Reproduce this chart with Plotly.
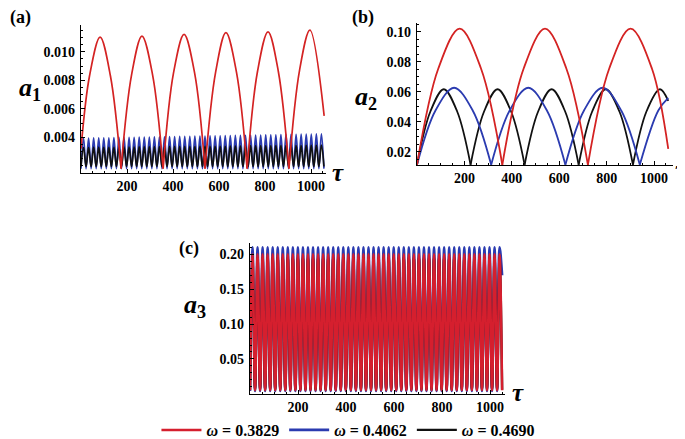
import plotly.graph_objects as go

# ---------------- data ----------------
# Panel (a): a1 vs tau
a_red_tau = [0, 37, 83, 128, 174, None, 174, 220, 265, 311, 357, None, 357, 402, 448, 494, 539, None,
             539, 585, 630, 676, 722, None, 722, 767, 813, 858, 904, None, 904, 950, 995, 1057]
a_red_val = [0.0032, 0.0083, 0.01103, 0.0083, 0.0018, None, 0.0018, 0.0084, 0.0111, 0.0084, 0.0018, None,
             0.0018, 0.0085, 0.01122, 0.0085, 0.0018, None, 0.0018, 0.00855, 0.01134, 0.00855, 0.0018, None,
             0.0018, 0.0086, 0.0114, 0.0086, 0.0018, None, 0.0018, 0.0087, 0.01152, 0.0055]

a_fast_tau = [0, 11, 22, 33, 44, 55, 66, 77, 88, 99, 110, 121, 132, 143, 154, 165, 176, 187, 198, 209,
              220, 231, 242, 253, 264, 275, 286, 297, 308, 319, 330, 341, 352, 363, 374, 385, 396, 407,
              418, 429, 440, 451, 462, 473, 484, 495, 506, 517, 528, 539, 550, 561, 572, 583, 594, 605,
              616, 627, 638, 649, 660, 671, 682, 693, 704, 715, 726, 737, 748, 759, 770, 781, 792, 803,
              814, 825, 836, 847, 858, 869, 880, 891, 902, 913, 924, 935, 946, 957, 968, 979, 990, 1001,
              1012, 1023, 1034, 1045, 1056]
a_blue_trough = [0.0018, 0.0018, 0.0018, 0.0018, 0.0018, 0.0018, 0.0018, 0.0018, 0.0018, 0.0018,
                 0.0018, 0.0018, 0.0018, 0.0018, 0.0018, 0.0018, 0.0018, 0.0018, 0.0018, 0.0018,
                 0.0018, 0.0018, 0.0018, 0.0018, 0.0018, 0.0018, 0.0018, 0.0018, 0.0018, 0.0018,
                 0.0018, 0.0018, 0.0018, 0.0018, 0.0018, 0.0018, 0.0018, 0.0018, 0.0018, 0.0018,
                 0.0018, 0.0018, 0.0018, 0.0018, 0.0018, 0.0018, 0.0018, 0.0018, 0.0018]
a_blue_peak = [0.00395, 0.00395, 0.00396, 0.00396, 0.00397, 0.00397, 0.00398, 0.00399, 0.00399, 0.00400,
               0.00400, 0.00401, 0.00402, 0.00402, 0.00403, 0.00403, 0.00404, 0.00405, 0.00405, 0.00406,
               0.00407, 0.00407, 0.00408, 0.00408, 0.00409, 0.00410, 0.00410, 0.00411, 0.00412, 0.00412,
               0.00413, 0.00414, 0.00414, 0.00415, 0.00416, 0.00416, 0.00417, 0.00418, 0.00418, 0.00419,
               0.00420, 0.00420, 0.00421, 0.00422, 0.00422, 0.00423, 0.00424, 0.00425]
a_black_trough = [0.00195, 0.00195, 0.00195, 0.00195, 0.00195, 0.00195, 0.00195, 0.00195, 0.00195, 0.00195,
                  0.00195, 0.00195, 0.00195, 0.00195, 0.00195, 0.00195, 0.00195, 0.00195, 0.00195, 0.00195,
                  0.00195, 0.00195, 0.00195, 0.00195, 0.00195, 0.00195, 0.00195, 0.00195, 0.00195, 0.00195,
                  0.00195, 0.00195, 0.00195, 0.00195, 0.00195, 0.00195, 0.00195, 0.00195, 0.00195, 0.00195,
                  0.00195, 0.00195, 0.00195, 0.00195, 0.00195, 0.00195, 0.00195, 0.00195, 0.00195]
a_black_peak = [0.00330, 0.00330, 0.00331, 0.00331, 0.00331, 0.00332, 0.00332, 0.00332, 0.00333, 0.00333,
                0.00333, 0.00334, 0.00334, 0.00334, 0.00335, 0.00335, 0.00335, 0.00336, 0.00336, 0.00336,
                0.00337, 0.00337, 0.00337, 0.00338, 0.00338, 0.00338, 0.00339, 0.00339, 0.00339, 0.00340,
                0.00340, 0.00340, 0.00341, 0.00341, 0.00341, 0.00342, 0.00342, 0.00342, 0.00343, 0.00343,
                0.00343, 0.00344, 0.00344, 0.00344, 0.00345, 0.00345, 0.00345, 0.00346]

# Panel (b): a2 vs tau
b_red_tau = [0, 90, 180, 270, 360, None, 360, 450, 540, 630, 721, None, 721, 811, 901, 991, 1060]
b_red_val = [0.0115, 0.0755, 0.102, 0.0755, 0.0115, None, 0.0115, 0.0755, 0.102, 0.0755, 0.0115, None,
             0.0115, 0.0755, 0.102, 0.0755, 0.022]
b_blue_tau = [0, 78, 156.5, 235, 313, None, 313, 391, 469.5, 548, 626, None, 626, 704.5, 783, 861.5, 940,
              None, 940, 1018, 1060]
b_blue_val = [0.0115, 0.0476, 0.0627, 0.0476, 0.0115, None, 0.0115, 0.0476, 0.0627, 0.0476, 0.0115, None,
              0.0115, 0.0476, 0.0627, 0.0476, 0.0115, None, 0.0115, 0.0476, 0.056]
b_black_tau = [0, 56.5, 113, 169.5, 226, None, 226, 283, 340, 397, 454, None, 454, 511, 568, 625, 682, None,
               682, 739, 796.5, 854, 911, None, 911, 968, 1025, 1060]
b_black_val = [0.0115, 0.0469, 0.0617, 0.0469, 0.0115, None, 0.0115, 0.0469, 0.0617, 0.0469, 0.0115, None,
               0.0115, 0.0469, 0.0617, 0.0469, 0.0115, None, 0.0115, 0.0469, 0.0617, 0.0469, 0.0115, None,
               0.0115, 0.0469, 0.0617, 0.054]

# Panel (c): a3 vs tau
c_fast_tau = [0, 10.5, 21, 31.5, 42, 52.5, 63, 73.5, 84, 94.5, 105, 115.5, 126, 136.5, 147, 157.5, 168,
              178.5, 189, 199.5, 210, 220.5, 231, 241.5, 252, 262.5, 273, 283.5, 294, 304.5, 315, 325.5,
              336, 346.5, 357, 367.5, 378, 388.5, 399, 409.5, 420, 430.5, 441, 451.5, 462, 472.5, 483,
              493.5, 504, 514.5, 525, 535.5, 546, 556.5, 567, 577.5, 588, 598.5, 609, 619.5, 630, 640.5,
              651, 661.5, 672, 682.5, 693, 703.5, 714, 724.5, 735, 745.5, 756, 766.5, 777, 787.5, 798,
              808.5, 819, 829.5, 840, 850.5, 861, 871.5, 882, 892.5, 903, 913.5, 924, 934.5, 945, 955.5,
              966, 976.5, 987, 997.5, 1008, 1018.5, 1029, 1039.5, 1050]
c_red_trough = [0.005, 0.005, 0.005, 0.005, 0.005, 0.005, 0.005, 0.005, 0.005, 0.005,
                0.005, 0.005, 0.005, 0.005, 0.005, 0.005, 0.005, 0.005, 0.005, 0.005,
                0.005, 0.005, 0.005, 0.005, 0.005, 0.005, 0.005, 0.005, 0.005, 0.005,
                0.005, 0.005, 0.005, 0.005, 0.005, 0.005, 0.005, 0.005, 0.005, 0.005,
                0.005, 0.005, 0.005, 0.005, 0.005, 0.005, 0.005, 0.005, 0.005, 0.005, 0.005]
c_red_peak = [0.200, 0.200, 0.200, 0.200, 0.200, 0.200, 0.200, 0.200, 0.200, 0.200,
              0.200, 0.200, 0.200, 0.200, 0.200, 0.200, 0.200, 0.200, 0.200, 0.200,
              0.200, 0.200, 0.200, 0.200, 0.200, 0.200, 0.200, 0.200, 0.200, 0.200,
              0.200, 0.200, 0.200, 0.200, 0.200, 0.200, 0.200, 0.200, 0.200, 0.200,
              0.200, 0.200, 0.200, 0.200, 0.200, 0.200, 0.200, 0.200, 0.200, 0.200]
c_blue_trough = [0.004, 0.004, 0.004, 0.004, 0.004, 0.004, 0.004, 0.004, 0.004, 0.004,
                 0.004, 0.004, 0.004, 0.004, 0.004, 0.004, 0.004, 0.004, 0.004, 0.004,
                 0.004, 0.004, 0.004, 0.004, 0.004, 0.004, 0.004, 0.004, 0.004, 0.004,
                 0.004, 0.004, 0.004, 0.004, 0.004, 0.004, 0.004, 0.004, 0.004, 0.004,
                 0.004, 0.004, 0.004, 0.004, 0.004, 0.004, 0.004, 0.004, 0.004, 0.004, 0.170]
c_blue_peak = [0.210, 0.210, 0.210, 0.210, 0.210, 0.210, 0.210, 0.210, 0.210, 0.210,
               0.210, 0.210, 0.210, 0.210, 0.210, 0.210, 0.210, 0.210, 0.210, 0.210,
               0.210, 0.210, 0.210, 0.210, 0.210, 0.210, 0.210, 0.210, 0.210, 0.210,
               0.210, 0.210, 0.210, 0.210, 0.210, 0.210, 0.210, 0.210, 0.210, 0.210,
               0.210, 0.210, 0.210, 0.210, 0.210, 0.210, 0.210, 0.210, 0.210, 0.210]
c_black_trough = [0.006, 0.006, 0.006, 0.006, 0.006, 0.006, 0.006, 0.006, 0.006, 0.006,
                  0.006, 0.006, 0.006, 0.006, 0.006, 0.006, 0.006, 0.006, 0.006, 0.006,
                  0.006, 0.006, 0.006, 0.006, 0.006, 0.006, 0.006, 0.006, 0.006, 0.006,
                  0.006, 0.006, 0.006, 0.006, 0.006, 0.006, 0.006, 0.006, 0.006, 0.006,
                  0.006, 0.006, 0.006, 0.006, 0.006, 0.006, 0.006, 0.006, 0.006, 0.006, 0.006]
c_black_peak = [0.196, 0.196, 0.196, 0.196, 0.196, 0.196, 0.196, 0.196, 0.196, 0.196,
                0.196, 0.196, 0.196, 0.196, 0.196, 0.196, 0.196, 0.196, 0.196, 0.196,
                0.196, 0.196, 0.196, 0.196, 0.196, 0.196, 0.196, 0.196, 0.196, 0.196,
                0.196, 0.196, 0.196, 0.196, 0.196, 0.196, 0.196, 0.196, 0.196, 0.196,
                0.196, 0.196, 0.196, 0.196, 0.196, 0.196, 0.196, 0.196, 0.196, 0.196]

omega_labels = ["0.3829", "0.4062", "0.4690"]
x_ticks = [200, 400, 600, 800, 1000]
a_yticks = [0.004, 0.006, 0.008, 0.010]
b_yticks = [0.02, 0.04, 0.06, 0.08, 0.10]
c_yticks = [0.05, 0.10, 0.15, 0.20]

RED = "#d42323"
RED_C = "#d51f2e"
BLUE = "#2b3bb0"
BLACK = "#111111"
SERIF = "Liberation Serif, Times New Roman, Times, serif"


def interleave(troughs, peaks):
    out = []
    for i, t in enumerate(troughs):
        out.append(t)
        if i < len(peaks):
            out.append(peaks[i])
    return out


fig = go.Figure()

# ---- panel (a)
fig.add_trace(go.Scatter(x=a_fast_tau, y=interleave(a_blue_trough, a_blue_peak), mode="lines",
                         line=dict(color=BLUE, width=1.7, shape="spline"), xaxis="x", yaxis="y",
                         showlegend=False, hoverinfo="skip"))
fig.add_trace(go.Scatter(x=a_fast_tau, y=interleave(a_black_trough, a_black_peak), mode="lines",
                         line=dict(color=BLACK, width=1.7, shape="spline"), xaxis="x", yaxis="y",
                         showlegend=False, hoverinfo="skip"))
fig.add_trace(go.Scatter(x=a_red_tau, y=a_red_val, mode="lines", connectgaps=False,
                         line=dict(color=RED, width=1.7, shape="spline"), xaxis="x", yaxis="y",
                         showlegend=False, hoverinfo="skip"))

# ---- panel (b)
fig.add_trace(go.Scatter(x=b_black_tau, y=b_black_val, mode="lines", connectgaps=False,
                         line=dict(color=BLACK, width=1.8, shape="spline"), xaxis="x2", yaxis="y2",
                         showlegend=False))
fig.add_trace(go.Scatter(x=b_blue_tau, y=b_blue_val, mode="lines", connectgaps=False,
                         line=dict(color=BLUE, width=1.8, shape="spline"), xaxis="x2", yaxis="y2",
                         showlegend=False))
fig.add_trace(go.Scatter(x=b_red_tau, y=b_red_val, mode="lines", connectgaps=False,
                         line=dict(color=RED, width=1.8, shape="spline"), xaxis="x2", yaxis="y2",
                         showlegend=False))

# ---- panel (c) (these carry the legend)
fig.add_trace(go.Scatter(x=c_fast_tau, y=interleave(c_blue_trough, c_blue_peak), mode="lines",
                         line=dict(color=BLUE, width=2.6, shape="spline"), xaxis="x3", yaxis="y3",
                         name="<i>ω</i> = " + omega_labels[1], legendrank=2))
fig.add_trace(go.Scatter(x=c_fast_tau, y=interleave(c_black_trough, c_black_peak), mode="lines",
                         line=dict(color=BLACK, width=2.4, shape="spline"), xaxis="x3", yaxis="y3",
                         name="<i>ω</i> = " + omega_labels[2], legendrank=3))
fig.add_trace(go.Scatter(x=c_fast_tau, y=interleave(c_red_trough, c_red_peak), mode="lines",
                         line=dict(color=RED_C, width=2.5, shape="spline"), xaxis="x3", yaxis="y3",
                         name="<i>ω</i> = " + omega_labels[0], legendrank=1))

W, H = 685, 439
tickfont = dict(family=SERIF, size=14, color="black", weight="bold")


def xaxis(px0, px1, rng, anchor):
    return dict(domain=[px0 / W, px1 / W], range=rng, anchor=anchor, showline=True, linecolor="black",
                linewidth=1.3, ticks="inside", ticklen=4, tickwidth=1, tickcolor="black",
                tickmode="array", tickvals=x_ticks, ticktext=[str(v) for v in x_ticks],
                showgrid=False, zeroline=False, tickfont=tickfont, fixedrange=True,
                minor=dict(tickmode="linear", tick0=0, dtick=50, ticks="inside", ticklen=2,
                           tickcolor="black", showgrid=False))


def yaxis(py_bottom, py_top, rng, anchor, vals, fmt, minor_dt):
    return dict(domain=[1 - py_bottom / H, 1 - py_top / H], range=rng, anchor=anchor, showline=True,
                linecolor="black", linewidth=1.3, ticks="inside", ticklen=4, tickwidth=1,
                tickcolor="black", tickmode="array", tickvals=vals, ticktext=[fmt.format(v) for v in vals],
                showgrid=False, zeroline=False, tickfont=tickfont, fixedrange=True, ticklabelstandoff=2,
                minor=dict(tickmode="linear", tick0=0, dtick=minor_dt, ticks="inside", ticklen=2,
                           tickcolor="black", showgrid=False))


fig.update_layout(
    width=W, height=H, autosize=False,
    margin=dict(l=0, r=0, t=0, b=0),
    paper_bgcolor="white", plot_bgcolor="white",
    font=dict(family=SERIF, color="black"),
    xaxis=xaxis(73, 318, [0, 1065], "y"),
    yaxis=yaxis(168, 17, [0.0015, 0.0119], "x", a_yticks, "{:.3f}", 0.0005),
    xaxis2=xaxis(409, 665, [0, 1080], "y2"),
    yaxis2=yaxis(160, 15, [0.0113, 0.1059], "x2", b_yticks, "{:.2f}", 0.005),
    xaxis3=xaxis(242, 497, [0, 1062], "y3"),
    yaxis3=yaxis(393, 239, [0, 0.2168], "x3", c_yticks, "{:.2f}", 0.01),
    showlegend=True,
    legend=dict(orientation="h", x=0.497, xanchor="center", y=0.02, yanchor="middle",
                font=dict(family=SERIF, size=16, color="black", weight="bold"),
                bgcolor="rgba(0,0,0,0)", itemwidth=40, traceorder="normal"),
)


def ann(text, px, py, size, italic=False):
    fig.add_annotation(text=text, x=px / W, y=1 - py / H, xref="paper", yref="paper",
                       showarrow=False, xanchor="center", yanchor="middle",
                       font=dict(family=SERIF, size=size, color="black", weight="bold",
                                 style="italic" if italic else "normal"))


ann("(a)", 12, 10, 18)
ann("(b)", 355, 10, 18)
ann("(c)", 181, 245, 18)
ann("<i>a</i><sub>1</sub>", 22, 83, 26)
ann("<i>a</i><sub>2</sub>", 358, 92, 26)
ann("<i>a</i><sub>3</sub>", 187, 304, 26)
ann("τ", 330, 168, 25, italic=True)
ann("τ", 673, 165, 25, italic=True)
ann("τ", 510, 392, 25, italic=True)

fig.write_html("out.html")
